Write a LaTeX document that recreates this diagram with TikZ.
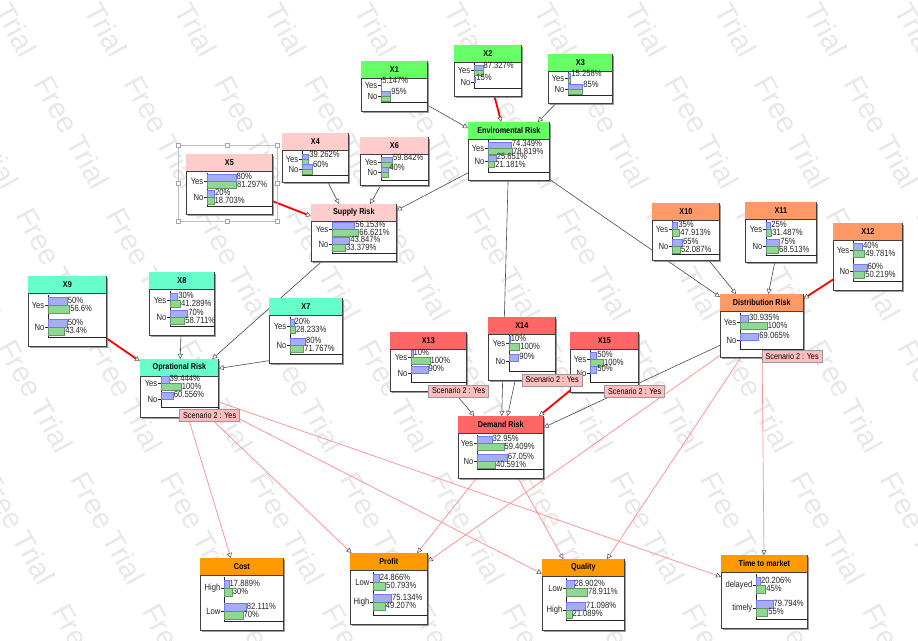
\documentclass[tikz,border=0pt]{standalone}
\usepackage{fontspec}
\setmainfont[FakeStretch=0.85]{Liberation Sans}
\newfontfamily\wmfont{Liberation Sans}
\usetikzlibrary{arrows.meta,shadows}

\definecolor{grn}{HTML}{66FF66}
\definecolor{rose}{HTML}{FFCCCC}
\definecolor{aqua}{HTML}{66FFCC}
\definecolor{coral}{HTML}{FF6666}
\definecolor{peach}{HTML}{FF9966}
\definecolor{amber}{HTML}{FF9900}
\definecolor{barblue}{HTML}{A5ADF7}
\definecolor{bargreen}{HTML}{8FD88F}
\definecolor{pinkline}{HTML}{FF8C8C}
\definecolor{scenpink}{HTML}{FFBDBD}

\pgfdeclarelayer{marks}
\pgfdeclarelayer{edges}
\pgfsetlayers{marks,edges,main}

\tikzset{
  bnbox/.style={draw=black!75, fill=white, line width=0.7pt, anchor=north west, inner sep=0pt,
    drop shadow={shadow xshift=1.8pt, shadow yshift=-1.8pt, fill=black!55, opacity=0.7}},
  titletext/.style={font=\bfseries\fontsize{8.5}{9}\selectfont, inner sep=0pt},
  statetext/.style={font=\fontsize{9}{9}\selectfont, inner sep=0.5pt, text=black!85},
  valtext/.style={font=\fontsize{9}{9}\selectfont, inner sep=0.6pt, anchor=west, text=black!85},
  axisline/.style={draw=black!85, line width=0.6pt},
  bluebar/.style={fill=barblue, draw=barblue!70!blue, line width=0.4pt},
  greenbar/.style={fill=bargreen, draw=bargreen!70!black, line width=0.4pt},
  link/.style={draw=black!70, line width=0.6pt,
    -{Triangle[length=5pt,width=5pt,fill=white,color=black!70,line width=0.5pt]}},
  strong/.style={link, draw=red, line width=1.8pt},
  soft/.style={link, draw=pinkline, line width=0.7pt},
  scen/.style={fill=scenpink, draw=black!40, line width=0.5pt, anchor=north west,
    font=\fontsize{8.5}{9}\selectfont, inner xsep=3.5pt, inner ysep=1pt, minimum height=12pt},
  wmark/.style={rotate=-61, text=black!9, font=\wmfont\fontsize{29}{29}\selectfont},
  selframe/.style={draw=black!25, line width=0.5pt},
  handle/.style={draw=black!35, fill=white, line width=0.4pt}
}

% box with coloured title bar: name, x, y, width, height, colour, title
\newcommand\bnnode[7]{%
  \node[bnbox, minimum width=#4pt, minimum height=#5pt] (#1) at (#2,#3) {};
  \fill[#6] ([shift={(0.35pt,-0.35pt)}]#1.north west) rectangle ([shift={(-0.35pt,-17pt)}]#1.north east);
  \draw[black!75, line width=0.6pt] ([yshift=-17pt]#1.north west) -- ([yshift=-17pt]#1.north east);
  \node[titletext] (#1-t) at ([yshift=-8.5pt]#1.north) {#7};
}
% axis and base line: name, axis x, top, base
\newcommand\bnaxis[4]{%
  \draw[axisline] ([shift={(#2pt,-#3pt)}]#1.north west) |- ([yshift=-#4pt]#1.north east);
}
% one state: name, axis x, row y, scale, state, blue, green, green text
\newcommand\bnrow[8]{%
  \coordinate (r) at ([shift={(#2pt,-#3pt)}]#1.north west);
  \pgfmathsetmacro\bw{#6*#4/100}
  \pgfmathsetmacro\gw{#7*#4/100}
  \draw[axisline] (r) -- ++(-3pt,0pt);
  \node[statetext, anchor=east] at ([xshift=-3pt]r) {#5};
  \filldraw[bluebar] (r) rectangle ++(\bw pt,\bh pt);
  \ifdim\gw pt>0pt
    \filldraw[greenbar] (r) rectangle ++(\gw pt,-\bh pt);
  \fi
  \node[valtext] at ([shift={(\bw pt,4.5pt)}]r) {#6\%};
  \node[valtext] at ([shift={(\gw pt,-3.5pt)}]r) {#8};
}

\begin{document}
\begin{tikzpicture}[x=1pt, y=-1pt]
\useasboundingbox (0,0) rectangle (918,640);

\begin{pgfonlayer}{marks}
  \clip (0,0) rectangle (918,640);
  \fill[white] (0,0) rectangle (918,640);
  \foreach \i in {-6,...,10}
    \foreach \j in {-1,...,5}
      \node[wmark] (fr-\i-\j) at (\i*90+\j*72, \j*132) {Free Trial};
\end{pgfonlayer}

% environmental
\def\bh{5}
\bnnode{x1}{361}{61}{66}{50}{grn}{X1}
\bnaxis{x1}{20}{17}{41}
\bnrow{x1}{20}{24}{10}{Yes}{5.147}{5.147}{}
\bnrow{x1}{20}{35}{10}{No}{95}{95}{}
\bnnode{x2}{454}{45}{67}{51}{grn}{X2}
\bnaxis{x2}{20}{18}{43}
\bnrow{x2}{20}{25}{10}{Yes}{87.327}{87.327}{}
\bnrow{x2}{20}{37}{10}{No}{15}{0}{}
\bnnode{x3}{548}{54}{64}{49}{grn}{X3}
\bnaxis{x3}{20}{18}{41}
\bnrow{x3}{20}{24}{17}{Yes}{15.258}{15.258}{}
\bnrow{x3}{20}{35}{17}{No}{85}{85}{}
\def\bh{6}
\bnnode{env}{468}{122}{81}{58}{grn}{Enviromental Risk}
\bnaxis{env}{20}{18}{50}
\bnrow{env}{20}{26}{31}{Yes}{74.349}{78.819}{78.819\%}
\bnrow{env}{20}{39}{31}{No}{25.651}{21.181}{21.181\%}

% supply
\def\bh{5}
\bnnode{x4}{282}{133}{66}{49}{rose}{X4}
\bnaxis{x4}{20}{18}{42}
\bnrow{x4}{20}{26}{17}{Yes}{39.262}{39.262}{}
\bnrow{x4}{20}{36}{17}{No}{60}{60}{}
\bnnode{x6}{360}{137}{68}{48}{rose}{X6}
\bnaxis{x6}{21}{18}{43}
\bnrow{x6}{21}{25}{19}{Yes}{59.842}{59.842}{}
\bnrow{x6}{21}{35}{19}{No}{40}{40}{}
\def\bh{7}
\draw[selframe] (178,145) rectangle (277,221);
\foreach \hx in {178,227.5,277}
  \foreach \hy in {145,183,221}
    \draw[handle] ([shift={(-2pt,-2pt)}]\hx,\hy) rectangle ([shift={(2pt,2pt)}]\hx,\hy);
\bnnode{x5}{186}{154}{86}{60}{rose}{X5}
\bnaxis{x5}{21}{19}{52}
\bnrow{x5}{21}{27}{36}{Yes}{80}{81.297}{81.297\%}
\bnrow{x5}{21}{43}{36}{No}{20}{18.703}{18.703\%}
\bnnode{supply}{311}{204}{85}{57}{rose}{Supply Risk}
\bnaxis{supply}{21}{18}{49}
\bnrow{supply}{21}{25}{40}{Yes}{56.153}{66.621}{66.621\%}
\bnrow{supply}{21}{40}{40}{No}{43.847}{33.379}{33.379\%}

% operational
\def\bh{8}
\bnnode{x9}{28}{276}{78}{70}{aqua}{X9}
\bnaxis{x9}{20}{19}{61}
\bnrow{x9}{20}{29}{38}{Yes}{50}{56.6}{56.6\%}
\bnrow{x9}{20}{51}{38}{No}{50}{43.4}{43.4\%}
\def\bh{7}
\bnnode{x8}{149}{272}{65}{63}{aqua}{X8}
\bnaxis{x8}{21}{19}{54}
\bnrow{x8}{21}{28}{25}{Yes}{30}{41.289}{41.289\%}
\bnrow{x8}{21}{45}{25}{No}{70}{58.711}{58.711\%}
\bnnode{x7}{269}{298}{73}{65}{aqua}{X7}
\bnaxis{x7}{21}{19}{56}
\bnrow{x7}{21}{28}{19}{Yes}{20}{28.233}{28.233\%}
\bnrow{x7}{21}{47}{19}{No}{80}{71.767}{71.767\%}
\bnnode{oper}{140}{359}{78}{58}{aqua}{Oprational Risk}
\bnaxis{oper}{21}{17}{48}
\bnrow{oper}{21}{24}{20}{Yes}{39.444}{100}{100\%}
\bnrow{oper}{21}{40}{20}{No}{60.556}{0}{}

% demand
\bnnode{x13}{390}{332}{76}{59}{coral}{X13}
\bnaxis{x13}{21}{17}{50}
\bnrow{x13}{21}{25}{18.7}{Yes}{10}{100}{100\%}
\bnrow{x13}{21}{41}{18.7}{No}{90}{0}{}
\bnnode{x14}{488}{317}{67}{63}{coral}{X14}
\bnaxis{x14}{21}{18}{54}
\bnrow{x14}{21}{26}{10.5}{Yes}{10}{100}{100\%}
\bnrow{x14}{21}{44}{10.5}{No}{90}{0}{}
\bnnode{x15}{570}{332}{68}{60}{coral}{X15}
\bnaxis{x15}{20}{18}{50}
\bnrow{x15}{20}{27}{13.3}{Yes}{50}{100}{100\%}
\bnrow{x15}{20}{41}{13.3}{No}{50}{0}{}
\bnnode{demand}{458}{416}{85}{62}{coral}{Demand Risk}
\bnaxis{demand}{19}{19}{53}
\bnrow{demand}{19}{27}{45}{Yes}{32.95}{59.409}{59.409\%}
\bnrow{demand}{19}{45}{45}{No}{67.05}{40.591}{40.591\%}

% distribution
\bnnode{x10}{652}{203}{67}{57}{peach}{X10}
\bnaxis{x10}{20}{18}{51}
\bnrow{x10}{20}{26}{16}{Yes}{35}{47.913}{47.913\%}
\bnrow{x10}{20}{43}{16}{No}{65}{52.087}{52.087\%}
\bnnode{x11}{745}{202}{71}{60}{peach}{X11}
\bnaxis{x11}{21}{18}{53}
\bnrow{x11}{21}{27}{18}{Yes}{25}{31.487}{31.487\%}
\bnrow{x11}{21}{44}{18}{No}{75}{68.513}{68.513\%}
\bnnode{x12}{833}{223}{69}{67}{peach}{X12}
\bnaxis{x12}{20}{18}{58}
\bnrow{x12}{20}{27}{23}{Yes}{40}{49.781}{49.781\%}
\bnrow{x12}{20}{48}{23}{No}{60}{50.219}{50.219\%}
\bnnode{distrib}{720}{294}{83}{63}{peach}{Distribution Risk}
\bnaxis{distrib}{20}{19}{55}
\bnrow{distrib}{20}{28}{27}{Yes}{30.935}{100}{100\%}
\bnrow{distrib}{20}{46}{27}{No}{69.065}{0}{}

% outcomes
\def\bh{8}
\bnnode{cost}{200}{558}{83}{72}{amber}{Cost}
\bnaxis{cost}{24}{19}{63}
\bnrow{cost}{24}{30}{27}{High}{17.889}{30}{30\%}
\bnrow{cost}{24}{53}{27}{Low}{82.111}{70}{70\%}
\bnnode{profit}{350}{553}{77}{71}{amber}{Profit}
\bnaxis{profit}{23}{19}{62}
\bnrow{profit}{23}{29}{24.5}{Low}{24.866}{50.793}{50.793\%}
\bnrow{profit}{23}{49}{24.5}{High}{75.134}{49.207}{49.207\%}
\bnnode{quality}{542}{559}{82}{71}{amber}{Quality}
\bnaxis{quality}{24}{19}{61}
\bnrow{quality}{24}{29}{27}{Low}{28.902}{78.911}{78.911\%}
\bnrow{quality}{24}{51}{27}{High}{71.098}{21.089}{21.089\%}
\bnnode{ttm}{721}{555}{86}{73}{amber}{Time to market}
\bnaxis{ttm}{35}{19}{64}
\bnrow{ttm}{35}{30}{21}{delayed}{20.206}{45}{45\%}
\bnrow{ttm}{35}{53}{21}{timely}{79.794}{55}{55\%}

\begin{pgfonlayer}{edges}
  \draw[link] (x1) -- (env);
  \draw[strong] (x2) -- (env);
  \draw[link] (x3) -- (env);
  \draw[link] (x4) -- (supply);
  \draw[link] (x6) -- (supply);
  \draw[strong] (x5) -- (supply);
  \draw[link] (env) -- (supply);
  \draw[link] (env) -- (demand);
  \draw[link] (env) -- (distrib);
  \draw[link] (supply) -- (oper);
  \draw[link] (x8) -- (oper);
  \draw[link] ([yshift=3pt]x7.south west) -- ([yshift=20pt]oper.east);
  \draw[strong] (x9) -- (oper);
  \draw[link] (x13) -- (demand);
  \draw[link] (x14) -- (demand);
  \draw[strong] (x15) -- (demand);
  \draw[link] (distrib) -- (demand);
  \draw[link] (x10) -- (distrib);
  \draw[link] (x11) -- (distrib);
  \draw[strong] (x12) -- (distrib);
  % scenario links
  \draw[soft] (oper) -- (cost);
  \draw[soft] (oper) -- (profit);
  \draw[soft] (oper) -- (quality);
  \draw[soft] (oper) -- (ttm);
  \draw[soft] (demand) -- (profit);
  \draw[soft] (demand) -- (quality);
  \draw[soft] (distrib) -- (profit);
  \draw[soft] (distrib) -- (quality);
  \draw[soft] (distrib) -- (ttm);
\end{pgfonlayer}

\node[scen] (s-oper) at ([yshift=8.5pt]oper.south) {Scenario 2 : Yes};
\node[scen] (s-x13) at ([yshift=7pt]x13.south) {Scenario 2 : Yes};
\node[scen] (s-x14) at ([yshift=7pt]x14.south) {Scenario 2 : Yes};
\node[scen] (s-x15) at ([yshift=7.5pt]x15.south) {Scenario 2 : Yes};
\node[scen] (s-distrib) at ([yshift=7.5pt]distrib.south) {Scenario 2 : Yes};
\end{tikzpicture}
\end{document}
